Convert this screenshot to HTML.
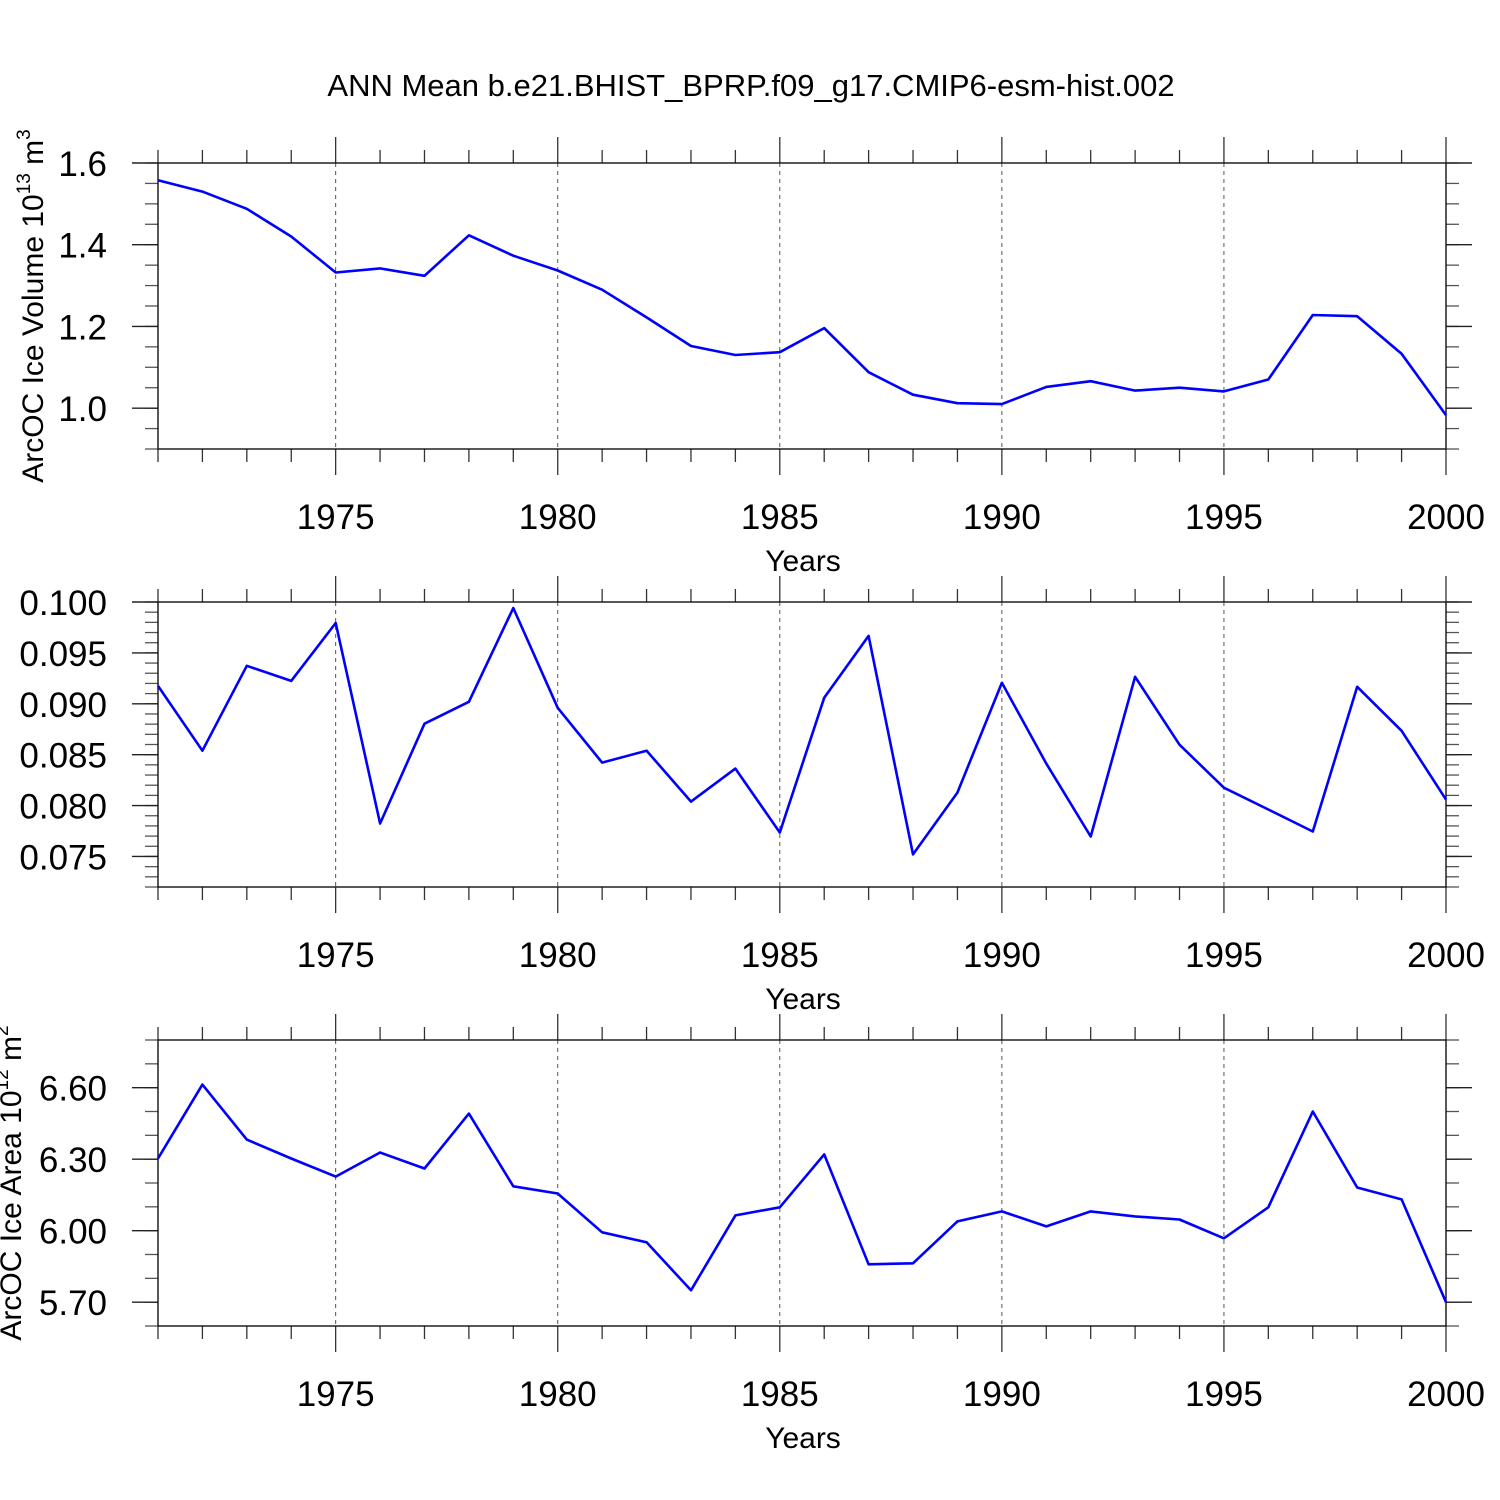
<!DOCTYPE html>
<html><head><meta charset="utf-8"><style>html,body{margin:0;padding:0;background:#fff}svg{display:block}text{font-family:"Liberation Sans",sans-serif;fill:#000}</style></head>
<body>
<svg id="chart" width="1500" height="1500" viewBox="0 0 1500 1500" xmlns="http://www.w3.org/2000/svg">
<rect width="1500" height="1500" fill="#fff"/>
<text x="751" y="96" font-size="31" text-anchor="middle">ANN Mean b.e21.BHIST_BPRP.f09_g17.CMIP6-esm-hist.002</text>
</svg>
<script>
const years = [1971,1972,1973,1974,1975,1976,1977,1978,1979,1980,1981,1982,1983,1984,1985,1986,1987,1988,1989,1990,1991,1992,1993,1994,1995,1996,1997,1998,1999,2000];
const volumeValues = [1.558,1.530,1.488,1.420,1.332,1.342,1.324,1.423,1.373,1.337,1.290,1.222,1.152,1.130,1.137,1.196,1.088,1.033,1.012,1.010,1.052,1.066,1.043,1.050,1.041,1.070,1.228,1.225,1.133,0.983];
const snowValues = [0.09176,0.08539,0.09373,0.09225,0.09794,0.07824,0.08804,0.09020,0.09941,0.08961,0.08422,0.08539,0.08039,0.08363,0.07735,0.09059,0.09667,0.07520,0.08127,0.09206,0.08412,0.07696,0.09265,0.08598,0.08176,0.07961,0.07745,0.09167,0.08735,0.08059];
const areaValues = [6.303,6.613,6.382,6.303,6.227,6.328,6.261,6.491,6.186,6.156,5.993,5.951,5.750,6.064,6.098,6.320,5.859,5.863,6.039,6.081,6.018,6.081,6.060,6.047,5.968,6.098,6.500,6.181,6.131,5.700];
const xTickLabels = [1975,1980,1985,1990,1995,2000];
const volumeTicks = ["1.0","1.2","1.4","1.6"];
const snowTicks = ["0.075","0.080","0.085","0.090","0.095","0.100"];
const areaTicks = ["5.70","6.00","6.30","6.60"];

const NS="http://www.w3.org/2000/svg";
const svg=document.getElementById('chart');
function mk(tag,attrs,parent){const e=document.createElementNS(NS,tag);for(const k in attrs)e.setAttribute(k,attrs[k]);(parent||svg).appendChild(e);return e;}
const X0=158,X1=1446;
function xs(y){return X0+(y-1971)/(2000-1971)*(X1-X0);}

function panel(cfg){
  const {top,bot,ymin,ymax,vals,ticks,minor,label,name,labelX}=cfg;
  const ys=v=>bot-(v-ymin)/(ymax-ymin)*(bot-top);
  const g=mk('g',{});
  
  
  for(const yr of xTickLabels){
    const l=mk('line',{x1:xs(yr),x2:xs(yr),y1:top,y2:bot,stroke:'#555','stroke-width':1,'stroke-dasharray':'4,4'},g);
    
    
  }
  for(let yr=1971;yr<=2000;yr++){
    const major=xTickLabels.includes(yr);
    const len=major?26:13;
    mk('line',{x1:xs(yr),x2:xs(yr),y1:top,y2:top-len,stroke:'#333','stroke-width':1.3},g);
    mk('line',{x1:xs(yr),x2:xs(yr),y1:bot,y2:bot+len,stroke:'#333','stroke-width':1.3},g);
  }
  for(let v=ymin;v<=ymax+1e-9;v+=minor){
    const y=ys(v);
    mk('line',{x1:X0,x2:X0-13,y1:y,y2:y,stroke:'#555','stroke-width':1.3},g);
    mk('line',{x1:X1,x2:X1+13,y1:y,y2:y,stroke:'#555','stroke-width':1.3},g);
  }
  for(const t of ticks){
    const y=ys(parseFloat(t));
    mk('line',{x1:X0,x2:X0-26,y1:y,y2:y,stroke:'#222','stroke-width':1.4},g);
    mk('line',{x1:X1,x2:X1+26,y1:y,y2:y,stroke:'#222','stroke-width':1.4},g);
    const tx=mk('text',{x:107,y:y+13,'font-size':35,'text-anchor':'end'},g);
    tx.textContent=t;
    
    
  }
  const fr=mk('rect',{x:X0,y:top,width:X1-X0,height:bot-top,fill:'none',stroke:'#111','stroke-width':1.4},g);
  
  
  for(const yr of xTickLabels){
    const tx=mk('text',{x:xs(yr),y:bot+80,'font-size':35,'text-anchor':'middle'},g);
    tx.textContent=yr;
    
    
  }
  const xt=mk('text',{x:803,y:bot+122,'font-size':30,'text-anchor':'middle'},g);
  xt.textContent='Years';
  
  
  const cy=(top+bot)/2;
  const yt=mk('text',{x:labelX,y:cy,'font-size':30,'text-anchor':'middle',transform:`rotate(-90 ${labelX} ${cy})`},g);
  yt.innerHTML=label;
  
  
  const pts=vals.map((v,i)=>xs(years[i]).toFixed(1)+','+ys(v).toFixed(1)).join(' ');
  const pl=mk('polyline',{points:pts,fill:'none',stroke:'#0000ff','stroke-width':2.6,'stroke-linejoin':'round'},g);
  
  
}
panel({top:163,bot:449,ymin:0.9,ymax:1.6,vals:volumeValues,ticks:volumeTicks,minor:0.05,name:'ice-volume',labelX:43,
  label:'ArcOC Ice Volume 10<tspan dy="-13" font-size="19">13</tspan><tspan dy="13"> m</tspan><tspan dy="-13" font-size="19">3</tspan>'});
panel({top:602,bot:887,ymin:0.072,ymax:0.100,vals:snowValues,ticks:snowTicks,minor:0.001,name:'snow-volume',labelX:-9,
  label:'ArcOC Snow Volume 10<tspan dy="-13" font-size="19">13</tspan><tspan dy="13"> m</tspan><tspan dy="-13" font-size="19">3</tspan>'});
panel({top:1040,bot:1326,ymin:5.6,ymax:6.8,vals:areaValues,ticks:areaTicks,minor:0.1,name:'ice-area',labelX:21,
  label:'ArcOC Ice Area 10<tspan dy="-13" font-size="19">12</tspan><tspan dy="13"> m</tspan><tspan dy="-13" font-size="19">2</tspan>'});
</script>
</body></html>
